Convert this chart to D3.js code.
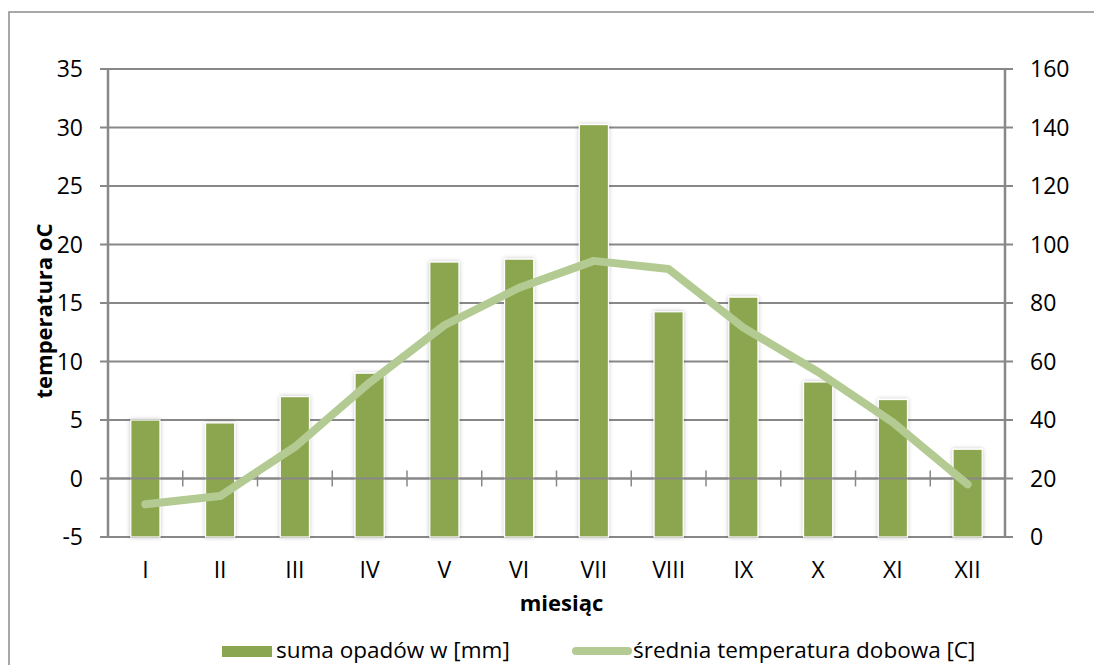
<!DOCTYPE html>
<html><head><meta charset="utf-8">
<script src="https://cdn.jsdelivr.net/npm/d3@7"></script>
<style>
html,body{margin:0;padding:0;background:#fff;}
svg{display:block;font-family:"Open Sans",sans-serif;}
</style></head>
<body><svg id="c" width="1094" height="665"></svg>
<script>
const months = ["I","II","III","IV","V","VI","VII","VIII","IX","X","XI","XII"];
const precipitation = [40, 39, 48, 56, 94, 95, 141, 77, 82, 53, 47, 30];
const temperature = [-2.2, -1.5, 2.7, 8.2, 13.1, 16.3, 18.6, 17.9, 12.9, 9.1, 4.8, -0.5];
const leftTicks = [-5, 0, 5, 10, 15, 20, 25, 30, 35];
const rightTicks = [0, 20, 40, 60, 80, 100, 120, 140, 160];
const seriesNames = ["suma opadów w [mm]", "średnia temperatura dobowa [C]"];

const svg = d3.select("#c");
const L = 108, R = 1005, T = 69, B = 537;
const barColor = "#8ba650", lineColor = "#b3cb92", gridColor = "#888888";

const yL = d3.scaleLinear().domain([-5, 35]).range([B, T]);
const yR = d3.scaleLinear().domain([0, 160]).range([B, T]);
const x = d3.scaleBand().domain(months).range([L, R]).paddingInner(0.61).paddingOuter(0.305);
const cx = d => x(d) + x.bandwidth() / 2;

const defs = svg.append("defs");
const f = defs.append("filter").attr("id", "sh").attr("x", "-30%").attr("y", "-10%").attr("width", "160%").attr("height", "120%");
f.append("feDropShadow").attr("dx", 0).attr("dy", 0).attr("stdDeviation", 2).attr("flood-color", "#000").attr("flood-opacity", 0.25);

// outer border
svg.append("rect").attr("x", 9).attr("y", 12).attr("width", 1100).attr("height", 700)
  .attr("fill", "none").attr("stroke", "#8c8c8c").attr("stroke-width", 1.5);

// gridlines
svg.append("g").selectAll("line").data(leftTicks).join("line")
  .attr("x1", L - 8).attr("x2", R + 8)
  .attr("y1", d => yL(d)).attr("y2", d => yL(d))
  .attr("stroke", gridColor).attr("stroke-width", 2);

// bars
svg.append("g").selectAll("rect").data(months).join("rect")
  .attr("x", d => x(d)).attr("width", x.bandwidth())
  .attr("y", (d, i) => yR(precipitation[i]))
  .attr("height", (d, i) => yR(0) - yR(precipitation[i]))
  .attr("fill", barColor).attr("stroke", "#fff").attr("stroke-width", 1.2)
  .attr("filter", "url(#sh)");

// category axis at 0
svg.append("line").attr("x1", L).attr("x2", R).attr("y1", yL(0)).attr("y2", yL(0))
  .attr("stroke", gridColor).attr("stroke-width", 2.2);
svg.append("g").selectAll("line").data(d3.range(1, months.length)).join("line")
  .attr("x1", i => L + i * x.step()).attr("x2", i => L + i * x.step())
  .attr("y1", yL(0) - 8).attr("y2", yL(0) + 8)
  .attr("stroke", gridColor).attr("stroke-width", 1.5);

// vertical axes
svg.append("line").attr("x1", L).attr("x2", L).attr("y1", T).attr("y2", B)
  .attr("stroke", gridColor).attr("stroke-width", 2.5);
svg.append("line").attr("x1", R).attr("x2", R).attr("y1", T).attr("y2", B)
  .attr("stroke", gridColor).attr("stroke-width", 2.5);

// line
const line = d3.line().x((d, i) => cx(months[i])).y(d => yL(d));
svg.append("path").datum(temperature).attr("d", line)
  .attr("fill", "none").attr("stroke", lineColor).attr("stroke-width", 8)
  .attr("stroke-linecap", "round").attr("stroke-linejoin", "round");

// tick labels
svg.append("g").selectAll("text").data(leftTicks).join("text")
  .attr("x", 83).attr("y", d => yL(d)).attr("dy", "0.35em")
  .attr("text-anchor", "end").attr("font-size", 23).attr("fill", "#000").text(d => d);
svg.append("g").selectAll("text").data(rightTicks).join("text")
  .attr("x", 1030).attr("y", d => yR(d)).attr("dy", "0.35em")
  .attr("text-anchor", "start").attr("font-size", 23).attr("fill", "#000").text(d => d);
svg.append("g").selectAll("text").data(months).join("text")
  .attr("x", d => cx(d)).attr("y", 578)
  .attr("text-anchor", "middle").attr("font-size", 23).attr("fill", "#000").text(d => d);

// axis titles
svg.append("text").attr("transform", "translate(52," + ((T + B) / 2 + 8) + ") rotate(-90)")
  .attr("text-anchor", "middle").attr("font-size", 22).attr("font-weight", "bold").text("temperatura oC");
svg.append("text").attr("x", (L + R) / 2 + 5).attr("y", 611)
  .attr("text-anchor", "middle").attr("font-size", 22).attr("font-weight", "bold").text("miesiąc");

// legend
const lg = svg.append("g");
lg.append("rect").attr("x", 222).attr("y", 646).attr("width", 50).attr("height", 11).attr("fill", barColor);
lg.append("text").attr("x", 276).attr("y", 658).attr("font-size", 22.5).text(seriesNames[0]);
lg.append("line").attr("x1", 576).attr("x2", 628).attr("y1", 651).attr("y2", 651)
  .attr("stroke", lineColor).attr("stroke-width", 8).attr("stroke-linecap", "round");
lg.append("text").attr("x", 633).attr("y", 658).attr("font-size", 22.5).text(seriesNames[1]);
</script></body></html>
